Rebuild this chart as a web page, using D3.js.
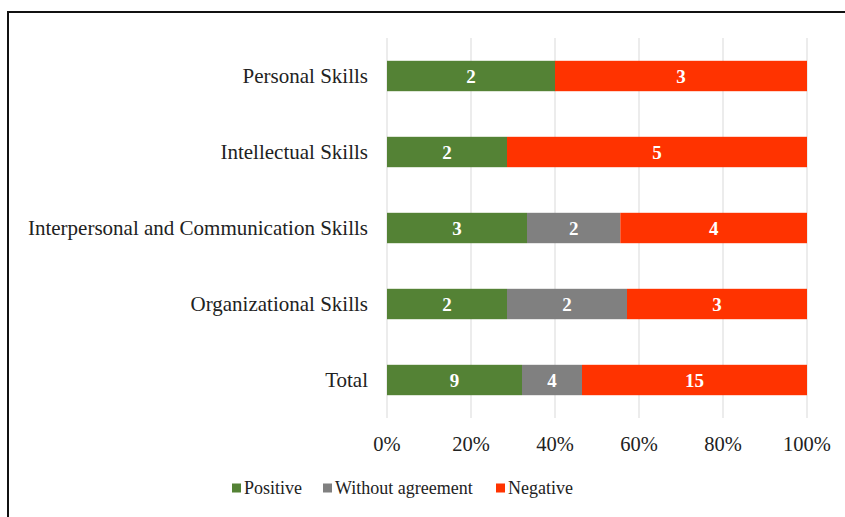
<!DOCTYPE html>
<html>
<head>
<meta charset="utf-8">
<script src="https://cdn.jsdelivr.net/npm/d3@7"></script>
<style>
  body { margin: 0; background: #fff; }
</style>
</head>
<body>
<div id="content"></div>
<script>
// data
const categories = ["Personal Skills", "Intellectual Skills",
    "Interpersonal and Communication Skills", "Organizational Skills", "Total"];
const positive = [2, 2, 3, 2, 9];
const withoutAgreement = [0, 0, 2, 2, 4];
const negative = [3, 5, 4, 3, 15];
const seriesNames = ["Positive", "Without agreement", "Negative"];
const seriesColors = ["#548235", "#808080", "#FF3300"];
const tickValues = [0, 0.2, 0.4, 0.6, 0.8, 1];

const FONT = "'Liberation Serif', 'Times New Roman', Times, serif";

const W = 845, H = 517;
const margin = { left: 387, right: 38, top: 38, bottom: 99 };
const iW = W - margin.left - margin.right;
const iH = H - margin.top - margin.bottom;

const rows = categories.map((c, i) => {
    const vals = [positive[i], withoutAgreement[i], negative[i]];
    const tot = d3.sum(vals);
    let acc = 0;
    const segs = vals.map((v, k) => {
        const s = { key: seriesNames[k], value: v, x0: acc / tot, x1: (acc + v) / tot, color: seriesColors[k] };
        acc += v;
        return s;
    });
    return { cat: c, segs: segs };
});

const x = d3.scaleLinear().domain([0, 1]).range([0, iW]);
const y = d3.scaleBand().domain(categories).range([0, iH])
    .paddingInner(0.6).paddingOuter(0.3);

const svg = d3.select("#content").append("svg")
    .attr("width", W).attr("height", H)
    .style("font-family", FONT);

svg.append("rect").attr("width", W).attr("height", H).attr("fill", "#fff");

// frame (right/bottom edges cut off in the picture)
svg.append("path")
    .attr("d", "M8," + (H + 5) + " L8,12 L" + (W + 5) + ",12")
    .attr("fill", "none").attr("stroke", "#111").attr("stroke-width", 2);

const g = svg.append("g").attr("transform", "translate(" + margin.left + "," + margin.top + ")");

// grid
g.selectAll(".grid").data(tickValues).enter().append("line")
    .attr("x1", d => x(d)).attr("x2", d => x(d))
    .attr("y1", 0).attr("y2", iH)
    .attr("stroke", "#d9d9d9").attr("stroke-width", 1);

// x tick labels
g.selectAll(".tick-label").data(tickValues).enter().append("text")
    .attr("x", d => x(d)).attr("y", iH + 33)
    .attr("text-anchor", "middle")
    .attr("font-family", FONT)
    .attr("font-size", 20.5).attr("fill", "#222")
    .text(d3.format(".0%"));

// category labels
g.selectAll(".cat").data(categories).enter().append("text")
    .attr("x", -19).attr("y", d => y(d) + y.bandwidth() / 2)
    .attr("dy", "0.35em").attr("text-anchor", "end")
    .attr("font-family", FONT)
    .attr("font-size", 21).attr("fill", "#222")
    .text(d => d);

// bars
const rowG = g.selectAll(".row").data(rows).enter().append("g")
    .attr("transform", d => "translate(0," + y(d.cat) + ")");

const seg = rowG.selectAll(".seg").data(d => d.segs.filter(s => s.value > 0)).enter();
seg.append("rect")
    .attr("x", d => x(d.x0)).attr("width", d => x(d.x1) - x(d.x0))
    .attr("y", 0).attr("height", y.bandwidth())
    .attr("fill", d => d.color);
seg.append("text")
    .attr("x", d => (x(d.x0) + x(d.x1)) / 2)
    .attr("y", y.bandwidth() / 2).attr("dy", "0.36em")
    .attr("text-anchor", "middle")
    .attr("font-family", FONT)
    .attr("font-size", 19).attr("font-weight", "bold").attr("fill", "#fff")
    .text(d => d.value);

// legend
const legendX = [232, 323, 496];
const legend = svg.selectAll(".legend").data(seriesNames).enter().append("g")
    .attr("transform", (d, i) => "translate(" + legendX[i] + ",488)");
legend.append("rect").attr("x", 0).attr("y", -4.5).attr("width", 9).attr("height", 9)
    .attr("fill", (d, i) => seriesColors[i]);
legend.append("text").attr("x", 12).attr("y", 0).attr("dy", "0.35em")
    .attr("font-family", FONT)
    .attr("font-size", 18).attr("fill", "#222")
    .text(d => d);
</script>
</body>
</html>
